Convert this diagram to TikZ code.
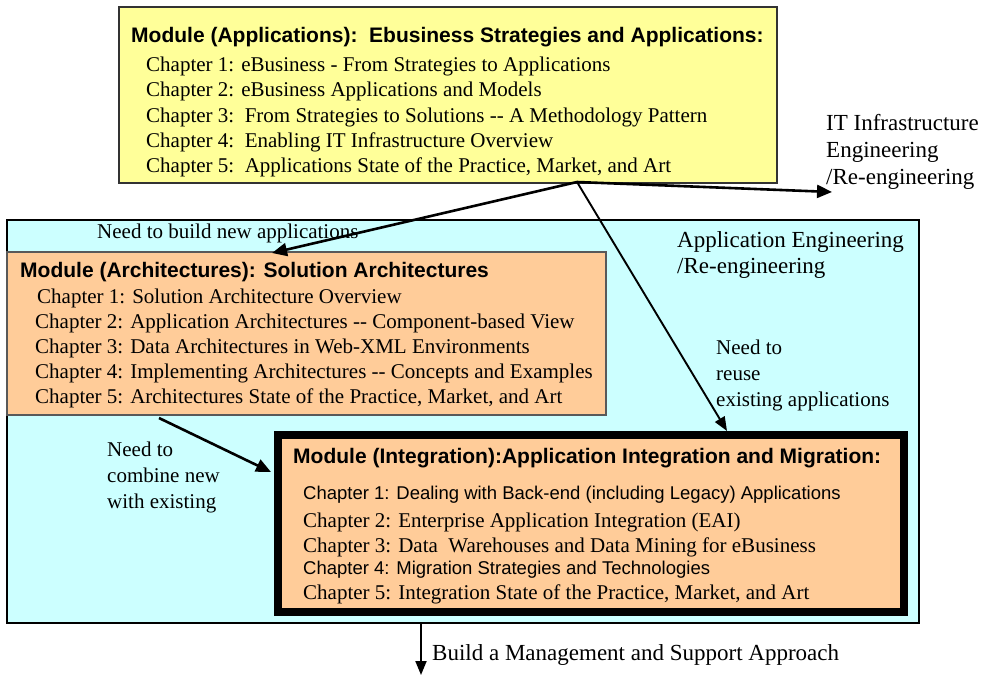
\documentclass[tikz,border=0pt]{standalone}
\usepackage{fontspec}
\setmainfont{Liberation Serif}
\setsansfont{Liberation Sans}
\usetikzlibrary{arrows.meta}
\definecolor{modyellow}{HTML}{FFFF99}
\definecolor{modcyan}{HTML}{CCFFFF}
\definecolor{modorange}{HTML}{FFCC99}
% two plain hyphens, kept apart from the en-dash ligature
\newcommand{\dhyph}{-{}-}
\begin{document}
\begin{tikzpicture}[x=1pt,y=-1pt,
  box/.style={anchor=north west, inner sep=0pt, outer sep=0pt},
  txt/.style={anchor=base west, inner sep=0pt, font=\fontsize{21}{25}\selectfont},
  hdr/.style={anchor=base west, inner sep=0pt, font=\fontsize{21}{25}\selectfont\sffamily\bfseries},
  sanstxt/.style={anchor=base west, inner sep=0pt, font=\fontsize{18.5}{22}\selectfont\sffamily},
  lbl/.style={anchor=base west, inner sep=0pt, align=left, font=\fontsize{21}{26}\selectfont},
  thickarr/.style={line width=2.6pt, -{Triangle[length=15pt,width=13pt]}},
  thinarr/.style={line width=1.9pt, -{Triangle[length=14pt,width=11pt]}},
]
\useasboundingbox (0,0) rectangle (984,675);

% application engineering area
\node[box, draw=black, line width=2pt, fill=modcyan,
      minimum width=912pt, minimum height=403pt] (area) at (7,220) {};

% architectures module
\node[box, draw=black!65, line width=1.2pt, fill=modorange,
      minimum width=599pt, minimum height=163pt] (arch) at (7,252) {};

% integration module
\node[box, draw=black, line width=8pt, fill=modorange,
      minimum width=626pt, minimum height=177pt] (integ) at (278,435) {};

% applications module
\node[box, draw=black!80, line width=1.4pt, fill=modyellow,
      minimum width=658pt, minimum height=176pt] (apps) at (119,7) {};

% module texts
\node[hdr] (appsh) at (131,42) {Module (Applications):\ \ Ebusiness Strategies and Applications:};
\node[txt] (apps1) at (146,71) {Chapter 1: eBusiness - From Strategies to Applications};
\node[txt] (apps2) at (146,96) {Chapter 2: eBusiness Applications and Models};
\node[txt] (apps3) at (146,122) {Chapter 3:\ \ From Strategies to Solutions \dhyph{} A Methodology Pattern};
\node[txt] (apps4) at (146,147) {Chapter 4:\ \ Enabling IT Infrastructure Overview};
\node[txt] (apps5) at (146,172) {Chapter 5:\ \ Applications State of the Practice, Market, and Art};

\node[hdr] (archh) at (20,277) {Module (Architectures): Solution Architectures};
\node[txt] (arch1) at (37,303) {Chapter 1: Solution Architecture Overview};
\node[txt] (arch2) at (35,328) {Chapter 2: Application Architectures \dhyph{} Component-based View};
\node[txt] (arch3) at (35,353) {Chapter 3: Data Architectures in Web-XML Environments};
\node[txt] (arch4) at (35,378) {Chapter 4: Implementing Architectures \dhyph{} Concepts and Examples};
\node[txt] (arch5) at (35,403) {Chapter 5: Architectures State of the Practice, Market, and Art};

\node[hdr] (integh) at (293,463) {Module (Integration):Application Integration and Migration:};
\node[sanstxt] (integ1) at (303,499) {Chapter 1: Dealing with Back-end (including Legacy) Applications};
\node[txt] (integ2) at (303,527) {Chapter 2: Enterprise Application Integration (EAI)};
\node[txt] (integ3) at (303,552) {Chapter 3: Data\ \ Warehouses and Data Mining for eBusiness};
\node[sanstxt] (integ4) at (303,574) {Chapter 4: Migration Strategies and Technologies};
\node[txt] (integ5) at (303,599) {Chapter 5: Integration State of the Practice, Market, and Art};

% free labels (each placed at the baseline of its last line)
\node[lbl, font=\fontsize{23}{27}\selectfont] (itlbl) at (826,184) {IT Infrastructure\\Engineering\\/Re-engineering};
\node[lbl, font=\fontsize{23}{26}\selectfont] (aelbl) at (677,273) {Application Engineering\\/Re-engineering};
\node[lbl, font=\fontsize{21}{25}\selectfont] (buildlbl) at (97,238) {Need to build new applications};
\node[lbl] (reuselbl) at (716,406) {Need to\\reuse\\existing applications};
\node[lbl] (combinelbl) at (107,508) {Need to\\combine new\\with existing};
\node[lbl, font=\fontsize{23}{27}\selectfont] (mgmtlbl) at (432,660) {Build a Management and Support Approach};

% connector end points
\coordinate (hub) at (577,182);
\coordinate (toarch) at (272,253);
\coordinate (toit) at (832,192);
\coordinate (tointeg) at (727,431);
\coordinate (archout) at (159,418);
\coordinate (integin) at (271,472);
\coordinate (areaout) at (421,623);
\coordinate (mgmt) at (421,675);

\draw[thickarr] (hub) -- (toarch);
\draw[thickarr] (hub) -- (toit);
\draw[thinarr] (hub) -- (tointeg);
\draw[thickarr] (archout) -- (integin);
\draw[thinarr] (areaout) -- (mgmt);
\end{tikzpicture}
\end{document}
